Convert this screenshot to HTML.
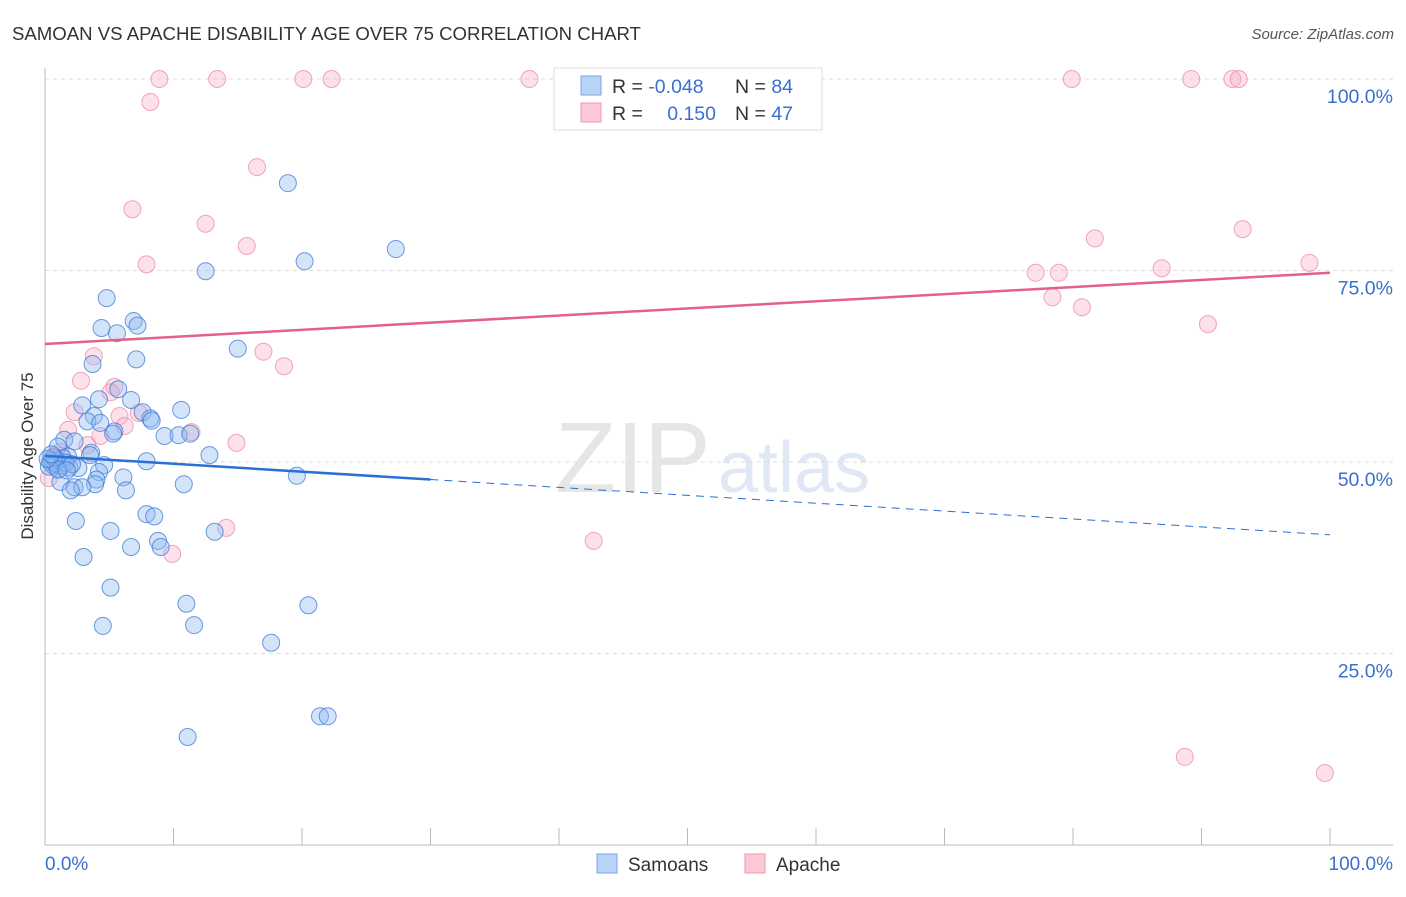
<!DOCTYPE html>
<html><head><meta charset="utf-8"><style>
body{margin:0;background:#fff;font-family:"Liberation Sans",sans-serif}
svg text{font-family:"Liberation Sans",sans-serif}
</style></head><body>
<svg id="chart" width="1406" height="892" xmlns="http://www.w3.org/2000/svg">
<text x="12" y="40" font-size="18.6" fill="#333">SAMOAN VS APACHE DISABILITY AGE OVER 75 CORRELATION CHART</text>
<text x="1394" y="39" font-size="15" fill="#555" text-anchor="end" font-style="italic">Source: ZipAtlas.com</text>
<text x="555" y="492" font-size="100" fill="#e6e6e6" font-family="Liberation Serif">ZIP</text>
<text x="718" y="492" font-size="72" fill="#dfe8f4">atlas</text>
<g id="grid"></g>
<g id="axes"></g>
<g id="pink"></g>
<g id="blue"></g>
<g id="trends"></g>
<text transform="translate(33,456) rotate(-90)" font-size="17" fill="#333" text-anchor="middle">Disability Age Over 75</text>
<g>
<rect x="554" y="68" width="268" height="62" fill="#fff" stroke="#ddd"/>
<rect x="581" y="76" width="20" height="19" fill="#b8d4f7" stroke="#7aa6e6"/>
<rect x="581" y="103" width="20" height="19" fill="#fcc8d6" stroke="#ee9ab2"/>
<text x="612" y="93" font-size="19.5" fill="#333">R = <tspan fill="#3a6fd0">-0.048</tspan></text>
<text x="735" y="93" font-size="19.5" fill="#333">N = <tspan fill="#3a6fd0">84</tspan></text>
<text x="612" y="120" font-size="19.5" fill="#333">R = </text>
<text x="716" y="120" font-size="19.5" fill="#3a6fd0" text-anchor="end">0.150</text>
<text x="735" y="120" font-size="19.5" fill="#333">N = <tspan fill="#3a6fd0">47</tspan></text>
</g>
<g>
<rect x="597" y="854" width="20" height="19" fill="#b8d4f7" stroke="#7aa6e6"/>
<text x="628" y="871" font-size="19" fill="#333">Samoans</text>
<rect x="745" y="854" width="20" height="19" fill="#fcc8d6" stroke="#ee9ab2"/>
<text x="776" y="871" font-size="19" fill="#333">Apache</text>
</g>
</svg>
<script>
const blueX=[18.9,27.3,20.2,12.5,4.8,6.9,7.2,4.4,5.6,15.0,7.1,3.7,5.7,4.2,6.7,2.9,10.6,7.6,3.8,8.2,8.3,3.3,4.3,5.4,5.3,9.3,10.4,11.3,1.5,2.3,1.0,3.6,3.5,12.8,1.8,0.9,7.9,0.4,0.6,1.3,1.9,2.6,4.6,4.2,1.1,19.6,6.1,4.0,1.2,2.3,3.9,2.9,10.8,6.3,2.0,7.9,8.5,2.4,5.1,13.2,8.8,9.0,6.7,3.0,5.1,11.0,20.5,11.6,4.5,17.6,21.4,22.0,11.1,0.5,0.8,1.4,0.3,1.6,0.7,2.1,1.0,0.2,1.7,0.5];
const blueY=[86.4,77.8,76.2,74.9,71.4,68.4,67.8,67.5,66.8,64.8,63.4,62.8,59.5,58.2,58.1,57.4,56.8,56.5,56.0,55.7,55.4,55.3,55.1,54.0,53.7,53.4,53.5,53.7,52.9,52.7,52.0,51.2,50.9,50.9,50.7,50.3,50.1,50.0,49.6,49.5,49.3,49.2,49.6,48.7,49.1,48.2,48.0,47.7,47.4,46.7,47.1,46.7,47.1,46.3,46.3,43.2,42.9,42.3,41.0,40.9,39.7,38.9,38.9,37.6,33.6,31.5,31.3,28.7,28.6,26.4,16.8,16.8,14.1,50.2,49.8,50.5,49.4,49.9,50.6,49.7,49.0,50.4,48.9,51.0];
const pinkX=[8.9,13.4,20.1,22.3,37.7,79.9,89.2,92.4,92.9,8.2,16.5,6.8,12.5,81.7,93.2,15.7,7.9,77.1,78.9,86.9,98.4,78.4,80.7,90.5,3.8,17.0,18.6,2.8,5.4,5.1,2.3,5.8,7.3,1.8,6.2,4.3,11.4,14.9,3.3,1.2,0.7,0.3,42.7,14.1,9.9,88.7,99.6];
const pinkY=[100,100,100,100,100,100,100,100,100,97.0,88.5,83.0,81.1,79.2,80.4,78.2,75.8,74.7,74.7,75.3,76.0,71.5,70.2,68.0,63.8,64.4,62.5,60.6,59.8,59.1,56.5,56.0,56.4,54.2,54.7,53.4,53.9,52.5,52.2,51.3,50.8,47.9,39.7,41.4,38.0,11.5,9.4];
const blueTrend=[50.8,-0.103];
const pinkTrend=[65.4,0.093];
const yTicks=[25,50,75,100];
const yTickLabels=["25.0%","50.0%","75.0%","100.0%"];
const xTicks=[0,10,20,30,40,50,60,70,80,90,100];
const NS="http://www.w3.org/2000/svg";
const X=v=>45+v*12.85, Y=v=>845-v*7.66;
function mk(p,t,a){const e=document.createElementNS(NS,t);for(const k in a)e.setAttribute(k,a[k]);document.getElementById(p).appendChild(e);return e;}
yTicks.forEach((t,i)=>{
 const g=mk('grid','line',{x1:45,x2:1393,y1:Y(t),y2:Y(t),stroke:'#ddd','stroke-dasharray':'4,4'});
 
 
 const l=mk('axes','text',{x:1393,y:Y(t)+24,'font-size':19.5,fill:'#3a6fd0','text-anchor':'end'});
 l.textContent=yTickLabels[i];
 
 
});
const ax=mk('axes','line',{x1:45,x2:1393,y1:845,y2:845,stroke:'#bbb'});


const ay=mk('axes','line',{x1:45,x2:45,y1:68,y2:845,stroke:'#bbb'});


xTicks.forEach(t=>{
 const k=mk('axes','line',{x1:X(t),x2:X(t),y1:828,y2:845,stroke:'#bbb'});
 
 
});
const x0=mk('axes','text',{x:45,y:870,'font-size':19,fill:'#3a6fd0'});x0.textContent='0.0%';


const x1=mk('axes','text',{x:1393,y:870,'font-size':19,fill:'#3a6fd0','text-anchor':'end'});x1.textContent='100.0%';


pinkX.forEach((v,i)=>{
 const c=mk('pink','circle',{cx:X(v),cy:Y(pinkY[i]),r:8.5,fill:'rgba(248,170,195,0.35)',stroke:'rgba(235,130,165,0.7)','stroke-width':1});
 
 
});
blueX.forEach((v,i)=>{
 const c=mk('blue','circle',{cx:X(v),cy:Y(blueY[i]),r:8.5,fill:'rgba(140,185,240,0.38)',stroke:'rgba(60,120,215,0.75)','stroke-width':1});
 
 
});
const bt=x=>blueTrend[0]+blueTrend[1]*x, pt=x=>pinkTrend[0]+pinkTrend[1]*x;
const l1=mk('trends','line',{x1:X(0),y1:Y(bt(0)),x2:X(30),y2:Y(bt(30)),stroke:'#2a6fd6','stroke-width':2.5});


const l2=mk('trends','line',{x1:X(30),y1:Y(bt(30)),x2:X(100),y2:Y(bt(100)),stroke:'#2a6fd6','stroke-width':1,'stroke-dasharray':'8,6'});


const l3=mk('trends','line',{x1:X(0),y1:Y(pt(0)),x2:X(100),y2:Y(pt(100)),stroke:'#e4608a','stroke-width':2.5});


</script>
</body></html>
